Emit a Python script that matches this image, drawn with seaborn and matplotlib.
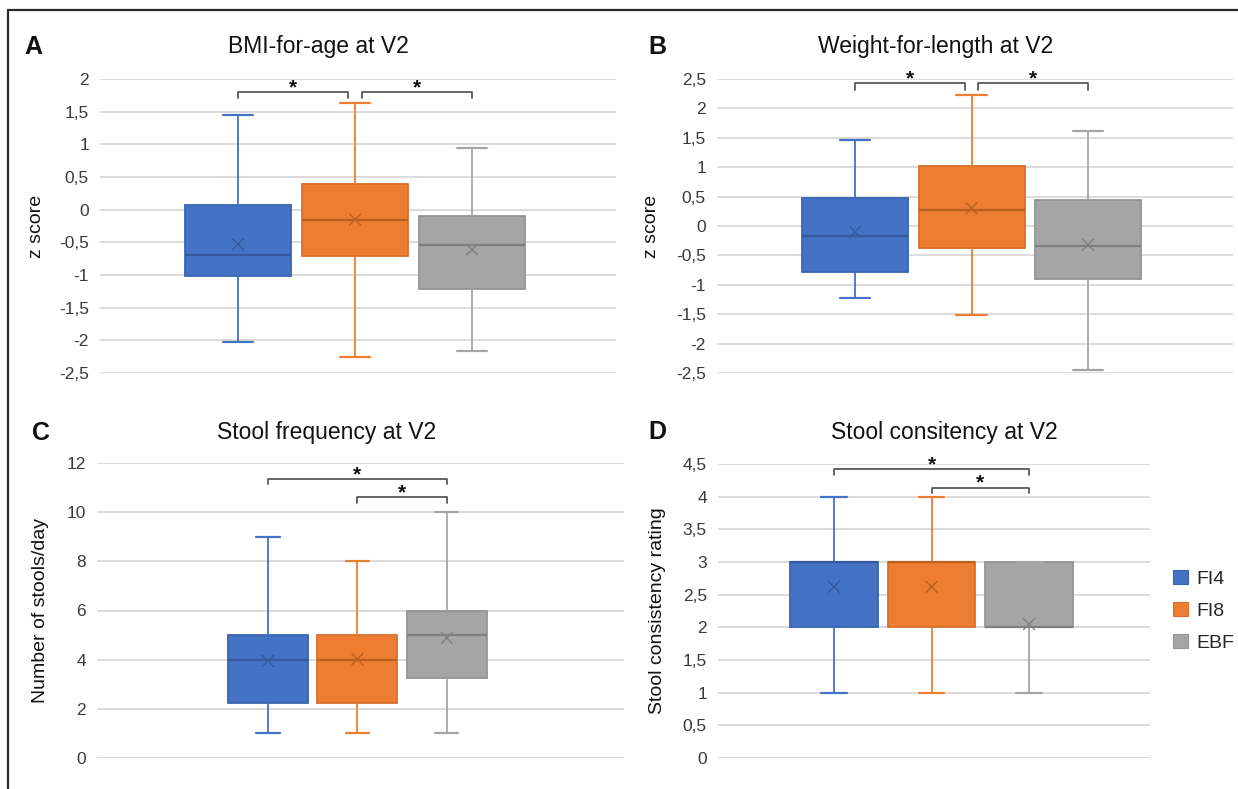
import numpy as np
import pandas as pd
import matplotlib
matplotlib.use("Agg")
import matplotlib.pyplot as plt
import seaborn as sns
from matplotlib.ticker import FuncFormatter, MultipleLocator
from matplotlib.patches import Patch
from matplotlib.lines import Line2D

# ---------------- data ----------------
groups = ["FI4", "FI8", "EBF"]

# A: BMI-for-age z score
bmi_min = [-2.03, -2.26, -2.16]
bmi_q1 = [-1.02, -0.71, -1.22]
bmi_med = [-0.70, -0.16, -0.54]
bmi_q3 = [0.07, 0.40, -0.09]
bmi_max = [1.45, 1.64, 0.95]
bmi_mean = [-0.53, -0.15, -0.61]

# B: Weight-for-length z score
wfl_min = [-1.22, -1.51, -2.45]
wfl_q1 = [-0.79, -0.38, -0.90]
wfl_med = [-0.17, 0.28, -0.34]
wfl_q3 = [0.47, 1.02, 0.44]
wfl_max = [1.47, 2.23, 1.61]
wfl_mean = [-0.10, 0.30, -0.32]

# C: Stool frequency (stools/day)
sf_min = [1, 1, 1]
sf_q1 = [2.23, 2.23, 3.24]
sf_med = [4, 4, 5]
sf_q3 = [5, 5, 6]
sf_max = [9, 8, 10]
sf_mean = [3.95, 4.02, 4.88]

# D: Stool consistency rating
sc_min = [1, 1, 1]
sc_q1 = [2, 2, 2]
sc_med = [3, 3, 2]
sc_q3 = [3, 3, 3]
sc_max = [4, 4, 3]
sc_mean = [2.62, 2.62, 2.05]

# significance brackets: (group a, group b, bar level, tick end level)
sig_A = [(0, 1, 1.80, 1.71), (1, 2, 1.80, 1.71)]
sig_B = [(0, 1, 2.43, 2.32), (1, 2, 2.43, 2.32)]
sig_C = [(0, 2, 11.35, 11.13), (1, 2, 10.62, 10.39)]
sig_D = [(0, 2, 4.42, 4.33), (1, 2, 4.14, 4.06)]

# ---------------- style ----------------
sns.set_theme(style="white")
plt.rcParams["font.family"] = ["Liberation Sans", "DejaVu Sans"]

fill_c = ["#4472C4", "#ED7D31", "#A5A5A5"]
edge_c = ["#3A65B3", "#D8702B", "#949494"]
med_c = ["#35599E", "#B9601F", "#808080"]
grid_c = "#D9D9D9"
tick_c = "#3A3A3A"

W, H = 1238, 789
fig = plt.figure(figsize=(W / 100, H / 100), dpi=100)


def ax_px(left, top, right, bottom):
    return fig.add_axes([left / W, 1 - bottom / H, (right - left) / W, (bottom - top) / H])


def fmt(v, _):
    s = f"{v:g}"
    return s.replace(".", ",")


def draw_panel(ax, mins, q1s, meds, q3s, maxs, means, ylim, step, xlim,
               width, sig, title, tx, ylabel, ylab_x, title_dy):
    capw = 0.26
    for i, g in enumerate(groups):
        vals = [mins[i], q1s[i], meds[i], q3s[i], maxs[i]]
        df = pd.DataFrame({"group": [g] * len(vals), "value": vals})
        n0 = len(ax.lines)
        sns.boxplot(data=df, x="group", y="value", order=groups, ax=ax,
                    color=fill_c[i], saturation=1, width=width,
                    whis=(0, 100), showfliers=False, linewidth=1.3,
                    linecolor=edge_c[i],
                    medianprops=dict(color=med_c[i], linewidth=1.6),
                    whiskerprops=dict(color=fill_c[i], linewidth=1.3),
                    capprops=dict(color=fill_c[i], linewidth=1.6))
        for ln in ax.lines[n0:]:
            xd = np.asarray(ln.get_xdata(), dtype=float)
            yd = np.asarray(ln.get_ydata(), dtype=float)
            if len(xd) == 2 and yd[0] == yd[1] and (xd.max() - xd.min()) < 0.95 * width:
                c = xd.mean()
                ln.set_xdata([c - capw / 2, c + capw / 2])
    ax.scatter(range(len(groups)), means, marker="x", s=70,
               c=med_c, linewidths=1.0, zorder=5)

    # significance brackets
    for a, b, lvl, tick in sig:
        xa = a + (0.06 if a == 1 and b == 2 and sig[0][1] == 1 else 0)
        xb = b - (0.06 if b == 1 else 0)
        ax.plot([xa, xa, xb, xb], [tick, lvl, lvl, tick], color="#595959",
                lw=1.3, clip_on=False, zorder=6)
        ax.annotate("*", xy=((xa + xb) / 2, lvl), xytext=(0, -0.8),
                    textcoords="offset points", ha="center", va="baseline",
                    fontsize=15, fontweight="bold", color="#111111",
                    annotation_clip=False)

    ax.set_ylim(*ylim)
    ax.set_xlim(*xlim)
    ax.yaxis.set_major_locator(MultipleLocator(step))
    ax.yaxis.set_major_formatter(FuncFormatter(fmt))
    ax.grid(False)
    ax.yaxis.grid(True, color=grid_c, lw=1.3)
    ax.set_axisbelow(True)
    for s in ax.spines.values():
        s.set_visible(False)
    ax.set_xticks([])
    ax.set_xlabel("")
    ax.tick_params(axis="y", length=0, pad=8, labelsize=12.5, labelcolor=tick_c)
    ax.set_ylabel(ylabel, fontsize=14, color="#111111")
    ax.yaxis.label.set_verticalalignment("center")
    ax.yaxis.set_label_coords(ylab_x, 0.5)
    ax.set_title(title, fontsize=16.5, x=tx, y=1 + title_dy, va="center",
                 pad=0, color="#111111")
    return ax


# panel A
axA = ax_px(100, 79, 616, 373)
draw_panel(axA, bmi_min, bmi_q1, bmi_med, bmi_q3, bmi_max, bmi_mean,
           (-2.5, 2), 0.5, (-1.18, 3.23), 0.906, sig_A,
           "BMI-for-age at V2", 0.424, "z score", -0.124, 32 / 294)
# panel B
axB = ax_px(717, 79, 1233, 373)
draw_panel(axB, wfl_min, wfl_q1, wfl_med, wfl_q3, wfl_max, wfl_mean,
           (-2.5, 2.5), 0.5, (-1.185, 3.245), 0.91, sig_B,
           "Weight-for-length at V2", 0.424, "z score", -0.126, 32 / 294)
# panel C
axC = ax_px(97, 463, 624, 758)
draw_panel(axC, sf_min, sf_q1, sf_med, sf_q3, sf_max, sf_mean,
           (0, 12), 2, (-1.91, 3.98), 0.894, sig_C,
           "Stool frequency at V2", 0.436, "Number of stools/day", -0.108, 30 / 295)
# panel D
axD = ax_px(718, 464, 1150, 758)
draw_panel(axD, sc_min, sc_q1, sc_med, sc_q3, sc_max, sc_mean,
           (0, 4.5), 0.5, (-1.19, 3.24), 0.9, sig_D,
           "Stool consitency at V2", 0.523, "Stool consistency rating", -0.141, 32 / 294)

# panel letters
for lx, ly, letter in [(33, 47, "A"), (657, 47, "B"), (41, 433, "C"), (657, 432, "D")]:
    fig.text(lx / W, 1 - ly / H, letter, ha="center", va="center",
             fontsize=18, fontweight="bold", color="#111111")

# legend
handles = [Patch(facecolor=fill_c[i], edgecolor=edge_c[i], lw=0.8) for i in range(3)]
fig.legend(handles, groups, loc="upper left", bbox_to_anchor=(1173 / W, 1 - 570 / H),
           frameon=False, fontsize=14, handlelength=0.75, handleheight=0.75,
           handletextpad=0.45, labelspacing=0.72, borderpad=0, borderaxespad=0)

# outer frame (top and left edges visible)
fig.add_artist(Line2D([8 / W, 1], [1 - 10 / H, 1 - 10 / H], color="#2b2b2b", lw=1.6,
                      transform=fig.transFigure))
fig.add_artist(Line2D([8 / W, 8 / W], [0, 1 - 10 / H], color="#2b2b2b", lw=1.6,
                      transform=fig.transFigure))

fig.savefig("out.png", dpi=100, facecolor="white")
